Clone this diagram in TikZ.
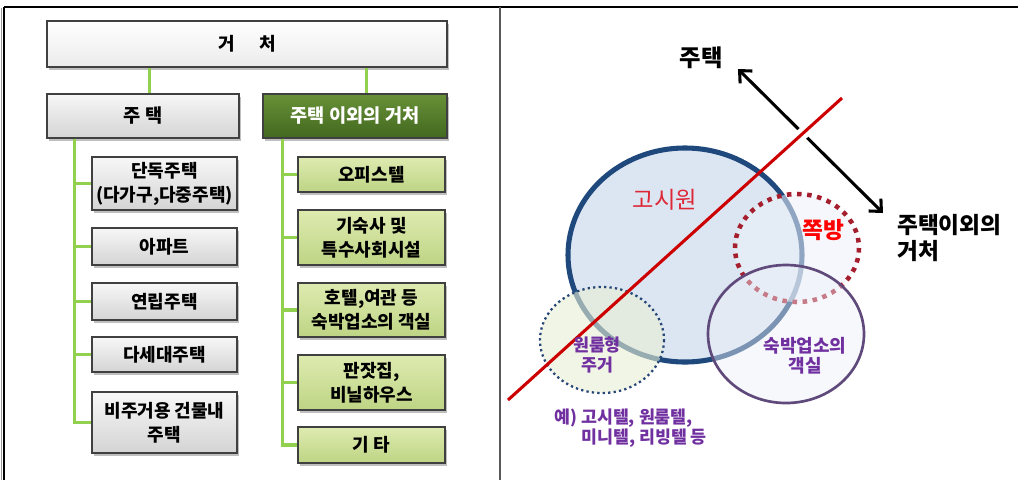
\documentclass[tikz,border=0pt]{standalone}
\usepackage{fontspec}
\setmainfont{Noto Sans CJK KR}
\usetikzlibrary{shadows,arrows.meta,calc}
\definecolor{boxedge}{RGB}{64,64,64}
\definecolor{grayA}{RGB}{247,247,247}
\definecolor{grayB}{RGB}{212,212,212}
\definecolor{whiteB}{RGB}{235,235,235}
\definecolor{dgreenA}{RGB}{104,145,56}
\definecolor{dgreenB}{RGB}{66,104,30}
\definecolor{lgreenA}{RGB}{222,235,176}
\definecolor{lgreenB}{RGB}{190,212,132}
\definecolor{conngreen}{RGB}{146,208,80}
\definecolor{gosiFill}{RGB}{220,230,242}
\definecolor{gosiEdge}{RGB}{31,73,125}
\definecolor{jjokEdge}{RGB}{165,30,45}
\definecolor{jjokFill}{RGB}{236,241,249}
\definecolor{oneFill}{RGB}{232,238,212}
\definecolor{oneEdge}{RGB}{38,70,120}
\definecolor{sukEdge}{RGB}{96,74,123}
\definecolor{sukFill}{RGB}{236,240,248}
\definecolor{purp}{RGB}{112,48,160}
\definecolor{gosiText}{RGB}{222,40,55}
\definecolor{redline}{RGB}{204,0,0}
\begin{document}
\begin{tikzpicture}[x=0.75pt,y=-0.75pt,
  wh/.style 2 args={minimum width=#1*0.75pt, minimum height=#2*0.75pt},
  box/.style={draw=boxedge, line width=1.1pt, align=center, inner sep=0pt,
    drop shadow={shadow xshift=1.6pt, shadow yshift=-2.4pt, opacity=0.5},
    font=\fontsize{13.5}{18}\selectfont\bfseries},
  graybox/.style={box, top color=grayA, bottom color=grayB},
  whitebox/.style={box, top color=white, bottom color=whiteB},
  dgbox/.style={box, top color=dgreenA, bottom color=dgreenB, text=white,
    font=\fontsize{14}{18}\selectfont\bfseries},
  lgbox/.style={box, top color=lgreenA, bottom color=lgreenB},
  conn/.style={draw=conngreen, line width=2.4pt},
  lbl/.style={inner sep=0pt, align=center},
]
\useasboundingbox (0,0) rectangle (1018,480);
% frame
\draw[black, line width=1.6pt] (4,7) -- (1018,7);
\draw[black, line width=1.6pt] (4,7) -- (4,480);
\draw[gray!80, line width=0.6pt] (1.5,8) -- (1.5,480);
\draw[black!65, line width=1.3pt] (500,7) -- (500,480);

% ---------- left panel ----------
\node[whitebox, wh={400}{46}] (root) at (247,44) {거\hspace{1.35em}처};
\node[graybox, wh={192}{44}, font=\fontsize{14}{18}\selectfont\bfseries] (zt) at (143,116) {주 택};
\node[dgbox, wh={184}{44}] (ot) at (355,116) {주택 이외의 거처};

\node[graybox, wh={145}{53}] (a1) at (164.5,183.5) {단독주택\\(다가구,다중주택)};
\node[graybox, wh={145}{37}] (a2) at (164.5,246.5) {아파트};
\node[graybox, wh={145}{37}] (a3) at (164.5,301.5) {연립주택};
\node[graybox, wh={145}{35}] (a4) at (164.5,354.5) {다세대주택};
\node[graybox, wh={145}{61}] (a5) at (164.5,422.5) {비주거용 건물내\\주택};

\node[lgbox, wh={147}{35}] (b1) at (371.5,174.5) {오피스텔};
\node[lgbox, wh={147}{55}] (b2) at (371.5,237.5) {기숙사 및\\특수사회시설};
\node[lgbox, wh={147}{54}] (b3) at (371.5,310) {호텔,여관 등\\숙박업소의 객실};
\node[lgbox, wh={147}{55}] (b4) at (371.5,382.5) {판잣집,\\비닐하우스};
\node[lgbox, wh={147}{36}] (b5) at (371.5,445) {기 타};

% connectors
\draw[conn] ($(root.south west)+(103,0)$) -- ($(zt.north west)+(103,0)$);
\draw[conn] ($(root.south west)+(320,0)$) -- ($(ot.north west)+(104,0)$);
\foreach \c in {a1,a2,a3,a4,a5}
  \draw[conn] ($(zt.south west)+(28,0)$) |- (\c.west);
\foreach \c in {b1,b2,b3,b4,b5}
  \draw[conn] ($(ot.south west)+(20,0)$) |- (\c.west);
% redraw boxes' left edges over connector ends
\foreach \c in {a1,a2,a3,a4,a5,b1,b2,b3,b4,b5}
  \draw[boxedge, line width=1.1pt] (\c.north west) -- (\c.south west);

% ---------- right panel ----------
\filldraw[draw=gosiEdge, fill=gosiFill, line width=3.8pt] (685,255) ellipse [x radius=117, y radius=107];
\filldraw[draw=oneEdge, fill=oneFill, fill opacity=0.6, line width=1.7pt,
  dash pattern=on 1.7pt off 2.4pt] (602,340) ellipse [x radius=62, y radius=53];
\filldraw[draw=jjokEdge, fill=jjokFill, fill opacity=0.55, line width=3.4pt,
  dash pattern=on 3.4pt off 4.2pt] (797,248) ellipse [x radius=62, y radius=54];
\filldraw[draw=sukEdge, fill=sukFill, fill opacity=0.45, line width=2pt]
  (786,334) ellipse [x radius=78, y radius=69];

% arrow and red line
\coordinate (ah) at (738,69);
\coordinate (at) at (883,213);
\draw[black, line width=2.3pt, {Straight Barb[length=7pt,width=13pt]}-{Straight Barb[length=7pt,width=13pt]}] (ah) -- (at);
\coordinate (ra) at (842,98);
\coordinate (rb) at (508,400);
\draw[white, line width=9pt] ($(ra)!0.085!(rb)$) -- ($(ra)!0.15!(rb)$);
\draw[redline, line width=2.3pt] (ra) -- (rb);

% labels
\node[lbl, font=\fontsize{17.5}{20}\selectfont\bfseries] (lzt) at (701,58) {주택};
\node[lbl, font=\fontsize{17}{20}\selectfont\bfseries, align=left, anchor=west] (lot) at (897,238) {주택이외의\\거처};
\node[lbl, font=\fontsize{17.5}{20}\selectfont, text=gosiText] (lgosi) at (665,200) {고시원};
\node[lbl, font=\fontsize{17}{20}\selectfont\bfseries, text=red] (ljjok) at (823,230) {쪽방};
\node[lbl, font=\fontsize{13}{15}\selectfont\bfseries, text=purp] (lone) at (597,355) {원룸형\\주거};
\node[lbl, font=\fontsize{13.5}{15}\selectfont\bfseries, text=purp] (lsuk) at (805,356) {숙박업소의\\객실};
\node[lbl, font=\fontsize{13}{15}\selectfont\bfseries, text=purp, anchor=west] (lex1) at (554,418) {예) 고시텔, 원룸텔,};
\node[lbl, font=\fontsize{13}{15}\selectfont\bfseries, text=purp, anchor=west] (lex2) at (581,438) {미니텔, 리빙텔 등};
\end{tikzpicture}
\end{document}
